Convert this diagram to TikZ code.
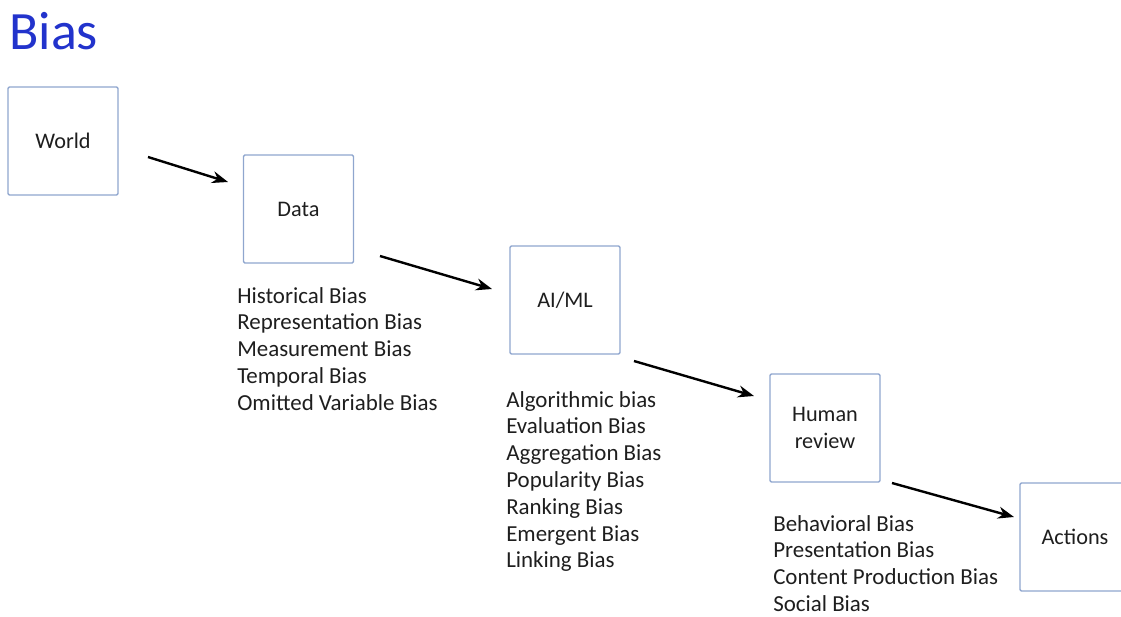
\documentclass[tikz,border=0pt]{standalone}
\usepackage{fontspec}
\setmainfont{Carlito}
\usetikzlibrary{arrows.meta}
\definecolor{titleblue}{HTML}{2233CC}
\definecolor{boxblue}{HTML}{8FA6CE}
\definecolor{txt}{HTML}{1E1E1E}
\tikzset{
  stagebox/.style={draw=boxblue, line width=1.1pt, rounded corners=1pt, minimum width=82.5pt, minimum height=81pt, inner sep=0pt, font=\fontsize{16.7}{20}\selectfont, text=txt, align=center},
  flow/.style={-{Stealth[length=12pt,width=9pt]}, line width=1.8pt, black},
  biaslist/.style={anchor=north west, align=left, inner sep=0pt, text=txt, font=\fontsize{17.2}{20.1}\selectfont},
}
\begin{document}
\begin{tikzpicture}[x=0.75pt,y=-0.75pt]
\useasboundingbox (0,0) rectangle (1121,617);
\clip (0,0) rectangle (1121,617);
\node[anchor=west, inner sep=0pt, text=titleblue, font=\fontsize{40.5}{46}\selectfont] (title) at (9,31) {Bias};

\node[stagebox] (world) at (63,141) {World};
\node[stagebox] (data) at (298.5,209) {Data};
\node[stagebox] (aiml) at (565,300) {AI/ML};
\node[stagebox] (human) at (825,428) {Human\\review};
\node[stagebox] (actions) at (1075,537) {Actions};

\coordinate (a1s) at (148,157); \coordinate (a1e) at (228,182);
\coordinate (a2s) at (380,256); \coordinate (a2e) at (492,289);
\coordinate (a3s) at (634,361); \coordinate (a3e) at (754,396);
\coordinate (a4s) at (892,483); \coordinate (a4e) at (1014,517);
\draw[flow] (a1s) -- (a1e);
\draw[flow] (a2s) -- (a2e);
\draw[flow] (a3s) -- (a3e);
\draw[flow] (a4s) -- (a4e);

\node[biaslist] (datalist) at (237,287) {Historical Bias\\Representation Bias\\Measurement Bias\\Temporal Bias\\Omitted Variable Bias};
\node[biaslist] (mllist) at (506,391) {Algorithmic bias\\Evaluation Bias\\Aggregation Bias\\Popularity Bias\\Ranking Bias\\Emergent Bias\\Linking Bias};
\node[biaslist] (humanlist) at (773,515) {Behavioral Bias\\Presentation Bias\\Content Production Bias\\Social Bias};
\end{tikzpicture}
\end{document}
